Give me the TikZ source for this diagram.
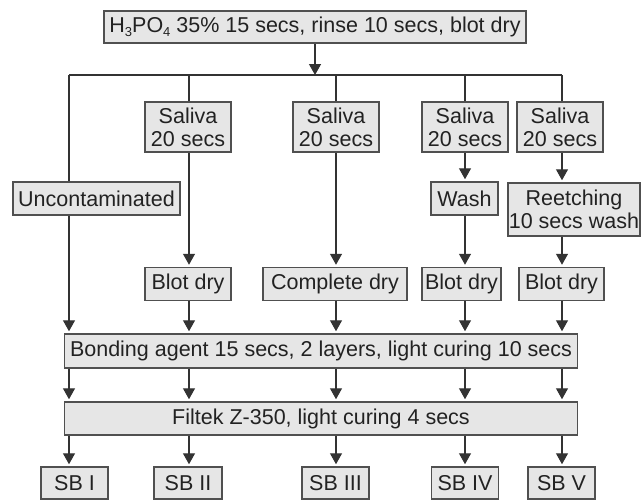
\documentclass[tikz,border=0pt]{standalone}
\usepackage{fontspec}
\setmainfont{Liberation Sans}
\usetikzlibrary{arrows.meta}
\definecolor{boxfill}{HTML}{E6E6E6}
\definecolor{boxline}{HTML}{505050}
\definecolor{lnc}{HTML}{333333}
\definecolor{txt}{HTML}{222222}
\tikzset{
  box/.style={draw=boxline, fill=boxfill, line width=1.5pt, inner sep=0pt, align=center,
    text=txt, font=\fontsize{21.5}{23}\selectfont},
  ln/.style={draw=lnc, line width=1.3pt},
  arr/.style={ln, -{Triangle[width=12pt,length=11pt]}, shorten >=2pt}
}
\newcommand{\subn}[1]{\raisebox{-0.35ex}{\fontsize{13}{13}\selectfont #1}}
\begin{document}
\begin{tikzpicture}[x=1pt,y=-1pt]
\useasboundingbox (0,0) rectangle (644,501);
% nodes
\node[box, minimum width=422pt, minimum height=32pt] (top) at (315,27) {H\subn{3}PO\subn{4} 35\% 15 secs, rinse 10 secs, blot dry};
\node[box, minimum width=86pt, minimum height=50pt] (s1) at (188,127) {Saliva\\20 secs};
\node[box, minimum width=86pt, minimum height=50pt] (s2) at (336,127) {Saliva\\20 secs};
\node[box, minimum width=86pt, minimum height=50pt] (s3) at (465,127) {Saliva\\20 secs};
\node[box, minimum width=86pt, minimum height=50pt] (s4) at (560,127) {Saliva\\20 secs};
\node[box, minimum width=167pt, minimum height=33pt] (unc) at (96.5,198.5) {Uncontaminated};
\node[box, minimum width=67pt, minimum height=33pt] (wash) at (464.5,198.5) {Wash};
\node[box, minimum width=132pt, minimum height=53pt] (reet) at (574,209.5) {Reetching\\10 secs wash};
\node[box, minimum width=86pt, minimum height=33pt] (b1) at (188,284) {Blot dry};
\node[box, minimum width=144pt, minimum height=33pt] (cd) at (335,284) {Complete dry};
\node[box, minimum width=79pt, minimum height=33pt] (b3) at (461.5,284) {Blot dry};
\node[box, minimum width=85pt, minimum height=33pt] (b4) at (561.5,284) {Blot dry};
\node[box, minimum width=513pt, minimum height=34pt] (bond) at (321,351) {Bonding agent 15 secs, 2 layers, light curing 10 secs};
\node[box, minimum width=513pt, minimum height=33pt] (filt) at (321,418.5) {Filtek Z-350, light curing 4 secs};
\node[box, minimum width=67pt, minimum height=32pt] (sb1) at (74.5,483) {SB I};
\node[box, minimum width=68pt, minimum height=32pt] (sb2) at (188,483) {SB II};
\node[box, minimum width=67pt, minimum height=32pt] (sb3) at (335.5,483) {SB III};
\node[box, minimum width=67pt, minimum height=32pt] (sb4) at (465,483) {SB IV};
\node[box, minimum width=67pt, minimum height=32pt] (sb5) at (561.5,483) {SB V};
% column coordinates on the distribution line
\coordinate (k0) at (69,75);
\coordinate (k1) at (189,75);
\coordinate (k2) at (336,75);
\coordinate (k3) at (465,75);
\coordinate (k4) at (562,75);
% connectors
\draw[arr, shorten >=0pt] (top.south) -- (top.south |- k0);
\draw[ln] (k0) -- (k4);
\draw[ln] (k0) -- (unc.north -| k0);
\draw[arr] (unc.south -| k0) -- (bond.north -| k0);
\draw[ln] (k1) -- (s1.north -| k1);
\draw[arr] (s1.south -| k1) -- (b1.north -| k1);
\draw[arr] (b1.south -| k1) -- (bond.north -| k1);
\draw[ln] (k2) -- (s2.north -| k2);
\draw[arr] (s2.south -| k2) -- (cd.north -| k2);
\draw[arr] (cd.south -| k2) -- (bond.north -| k2);
\draw[ln] (k3) -- (s3.north -| k3);
\draw[arr] (s3.south -| k3) -- (wash.north -| k3);
\draw[arr] (wash.south -| k3) -- (b3.north -| k3);
\draw[arr] (b3.south -| k3) -- (bond.north -| k3);
\draw[ln] (k4) -- (s4.north -| k4);
\draw[arr] (s4.south -| k4) -- (reet.north -| k4);
\draw[arr] (reet.south -| k4) -- (b4.north -| k4);
\draw[arr] (b4.south -| k4) -- (bond.north -| k4);
\foreach \k in {k0,k1,k2,k3,k4}{
  \draw[arr] (bond.south -| \k) -- (filt.north -| \k);
}
\draw[arr] (filt.south -| k0) -- (sb1.north -| k0);
\draw[arr] (filt.south -| k1) -- (sb2.north -| k1);
\draw[arr] (filt.south -| k2) -- (sb3.north -| k2);
\draw[arr] (filt.south -| k3) -- (sb4.north -| k3);
\draw[arr] (filt.south -| k4) -- (sb5.north -| k4);
\end{tikzpicture}
\end{document}
